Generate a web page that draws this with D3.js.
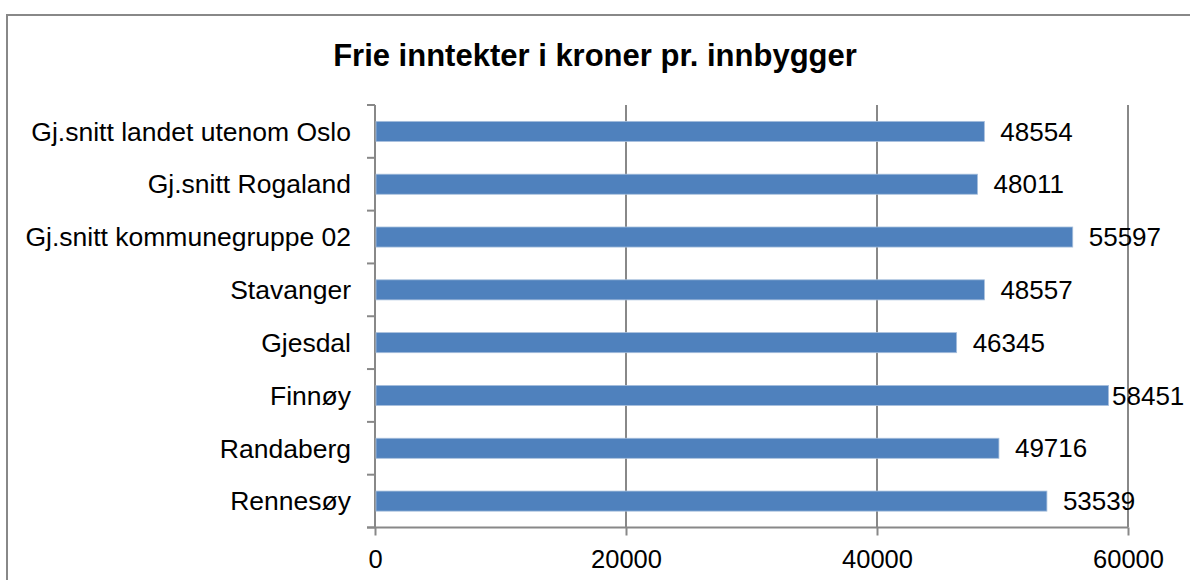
<!DOCTYPE html>
<html>
<head>
<meta charset="utf-8">
<script src="https://cdn.jsdelivr.net/npm/d3@7"></script>
<style>
  body { margin: 0; background: #fff; }
  text { font-family: "Liberation Sans", Arial, sans-serif; fill: #000; }
</style>
</head>
<body>
<div id="chart"></div>
<script>
// data
const categories = ['Gj.snitt landet utenom Oslo', 'Gj.snitt Rogaland', 'Gj.snitt kommunegruppe 02',
    'Stavanger', 'Gjesdal', 'Finnøy', 'Randaberg', 'Rennesøy'];
const values = [48554, 48011, 55597, 48557, 46345, 58451, 49716, 53539];
const xTicks = [0, 20000, 40000, 60000];
const title = 'Frie inntekter i kroner pr. innbygger';

const W = 1190, H = 580;
const margin = { top: 105, right: 62, bottom: 52.5, left: 375 },
      width = W - margin.left - margin.right,
      height = H - margin.top - margin.bottom;

const svg = d3.select('#chart').append('svg')
    .attr('width', W)
    .attr('height', H);

// outer frame
svg.append('rect')
    .attr('x', 7).attr('y', 15)
    .attr('width', W + 10).attr('height', H)
    .attr('fill', 'none')
    .attr('stroke', '#888')
    .attr('stroke-width', 2);

svg.append('text')
    .attr('x', 595).attr('y', 66)
    .attr('text-anchor', 'middle')
    .style('font-size', '31px')
    .style('font-weight', 'bold')
    .text(title);

const g = svg.append('g')
    .attr('transform', 'translate(' + margin.left + ',' + margin.top + ')');

const x = d3.scaleLinear()
    .domain([0, 60000])
    .range([0, 753]);

const y = d3.scaleBand()
    .domain(categories)
    .range([0, height])
    .paddingInner(0.62)
    .paddingOuter(0.31);

// gridlines
g.selectAll('.grid')
    .data(xTicks.slice(1))
    .enter()
    .append('line')
    .attr('x1', d => x(d)).attr('x2', d => x(d))
    .attr('y1', 0).attr('y2', height)
    .attr('stroke', '#888')
    .attr('stroke-width', 2);

// x axis
const xAxis = g.append('g')
    .attr('transform', 'translate(0,' + height + ')')
    .call(d3.axisBottom(x).tickValues(xTicks).tickFormat(d3.format('d')).tickSizeInner(8).tickSizeOuter(0).tickPadding(14));
xAxis.select('.domain').attr('stroke', '#888').attr('stroke-width', 2)
    .attr('d', 'M-8,0H' + x(60000));
xAxis.selectAll('line').attr('stroke', '#888').attr('stroke-width', 2);
xAxis.selectAll('text').style('font-size', '25.5px')
    .style('font-family', '"Liberation Sans", Arial, sans-serif').attr('fill', '#000');

// y axis: ticks at band boundaries
const bounds = d3.range(categories.length + 1).map(i => i * height / categories.length);
g.append('line')
    .attr('x1', 0).attr('x2', 0).attr('y1', 0).attr('y2', height)
    .attr('stroke', '#888').attr('stroke-width', 2);
g.selectAll('.ytick')
    .data(bounds)
    .enter()
    .append('line')
    .attr('x1', -8).attr('x2', 0)
    .attr('y1', d => d).attr('y2', d => d)
    .attr('stroke', '#888').attr('stroke-width', 2);

g.selectAll('.ylab')
    .data(categories)
    .enter()
    .append('text')
    .attr('x', -24)
    .attr('y', d => y(d) + y.bandwidth() / 2)
    .attr('dy', '0.35em')
    .attr('text-anchor', 'end')
    .style('font-size', '26.5px')
    .text(d => d);

// bars
g.selectAll('.bar')
    .data(values)
    .enter()
    .append('rect')
    .attr('x', x(0) + 1)
    .attr('y', (d, i) => y(categories[i]))
    .attr('width', d => x(d) - 1)
    .attr('height', y.bandwidth())
    .attr('fill', '#4f81bd')
    .attr('stroke', '#a7bfdc')
    .attr('stroke-width', 0.8);

// value labels, pulled in where they would run off the frame
const maxLabelX = 1112 - margin.left;
g.selectAll('.val')
    .data(values)
    .enter()
    .append('text')
    .attr('x', d => Math.min(x(d) + 16, maxLabelX))
    .attr('y', (d, i) => y(categories[i]) + y.bandwidth() / 2)
    .attr('dy', '0.35em')
    .style('font-size', '26px')
    .text(d => d);
</script>
</body>
</html>
